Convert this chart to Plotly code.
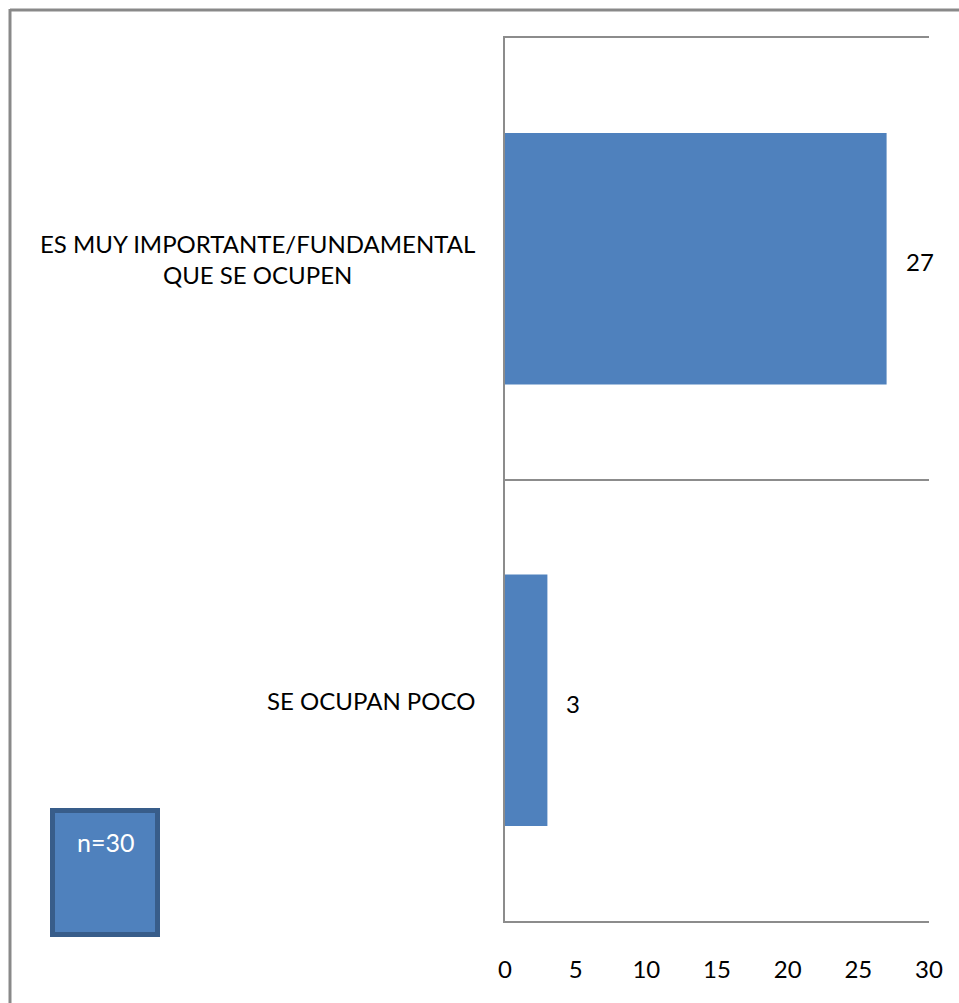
import plotly.graph_objects as go

categories = ["ES MUY IMPORTANTE/FUNDAMENTAL<br>QUE SE OCUPEN", "SE OCUPAN POCO"]
values = [27, 3]
x_ticks = [0, 5, 10, 15, 20, 25, 30]
note_text = "n=30"

W, H = 959, 1003
L, R, T, B = 505, 929, 38, 921
FONT = "Lato"
BAR = "#4F81BD"
GRID = "#8C8C8C"

def px_x(p):
    return (p - L) / (R - L)

def px_y(p):
    return (B - p) / (B - T)

fig = go.Figure()
fig.add_trace(go.Bar(
    x=values, y=list(range(len(categories))), orientation="h",
    marker=dict(color=BAR, line=dict(width=0)),
    hoverinfo="skip",
))

annotations = []
for i, (c, v) in enumerate(zip(categories, values)):
    annotations.append(dict(x=0, xref="paper", y=i, yref="y", text=c,
                            xanchor="right", yanchor="middle", xshift=-28, align="center",
                            showarrow=False, font=dict(family=FONT, size=24, color="#000")))
    annotations.append(dict(x=v, xref="x", y=i, yref="y", text=str(v),
                            xanchor="left", yanchor="middle", xshift=17, yshift=-3,
                            showarrow=False, font=dict(family=FONT, size=24, color="#000")))

annotations.append(dict(x=px_x(105), y=px_y(842), xref="paper", yref="paper", text=note_text,
                        showarrow=False, xanchor="center", yanchor="middle",
                        font=dict(family=FONT, size=25, color="#FFFFFF")))

shapes = [
    # outer frame
    dict(type="line", xref="paper", yref="paper", x0=px_x(10), x1=px_x(W + 5), y0=px_y(10), y1=px_y(10),
         line=dict(color="#898989", width=3), layer="above"),
    dict(type="line", xref="paper", yref="paper", x0=px_x(10), x1=px_x(10), y0=px_y(9), y1=px_y(H + 5),
         line=dict(color="#898989", width=3), layer="above"),
    # n box
    dict(type="rect", xref="paper", yref="paper", x0=px_x(52.5), x1=px_x(157.5), y0=px_y(810.5), y1=px_y(934.5),
         fillcolor=BAR, line=dict(color="#385D8A", width=5), layer="below"),
]

fig.update_layout(
    width=W, height=H,
    margin=dict(l=L, r=W - R, t=T, b=H - B, pad=0),
    paper_bgcolor="white", plot_bgcolor="white",
    showlegend=False, bargap=0.43,
    font=dict(family=FONT, size=24, color="#000"),
    annotations=annotations, shapes=shapes,
    xaxis=dict(range=[0, 30], tickvals=x_ticks, ticktext=[str(t) for t in x_ticks],
               showgrid=False, zeroline=False, showline=True, mirror=True,
               linecolor=GRID, linewidth=1.5, ticks="", ticklabelstandoff=26,
               tickfont=dict(family=FONT, size=24, color="#000"), fixedrange=True),
    yaxis=dict(range=[len(categories) - 0.5, -0.5], tickvals=[-0.5, 0.5, 1.5], showticklabels=False,
               showgrid=True, gridcolor=GRID, gridwidth=1.5, zeroline=False,
               showline=True, linecolor=GRID, linewidth=1.5, ticks="", fixedrange=True),
)

fig.write_html("out.html", config={"displayModeBar": False},
               post_script="document.body.style.margin='0';document.body.style.overflow='hidden';")
